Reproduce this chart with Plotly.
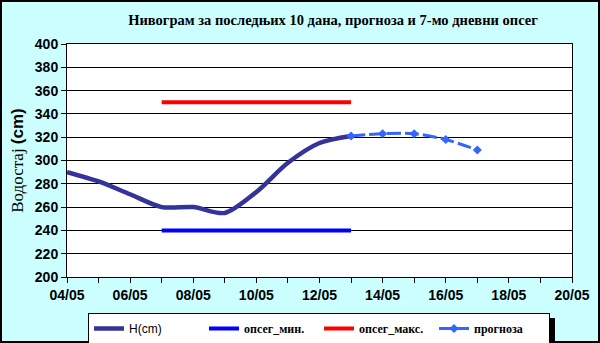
import plotly.graph_objects as go

# Observed water level (cm) for the last 10 days
obs_dates = ["2024-05-04", "2024-05-05", "2024-05-06", "2024-05-07", "2024-05-08",
             "2024-05-09", "2024-05-10", "2024-05-11", "2024-05-12", "2024-05-13"]
obs_level = [290, 282, 271, 260, 260, 255, 273, 298, 315, 321]

# 7-day range limits
range_dates = ["2024-05-07", "2024-05-13"]
range_min = [240, 240]
range_max = [350, 350]

# Forecast
fc_dates = ["2024-05-13", "2024-05-14", "2024-05-15", "2024-05-16", "2024-05-17"]
fc_level = [321, 323, 323, 318, 309]

y_ticks = list(range(200, 401, 20))

W, H = 600, 343
L, R, T, B = 67, 28, 44, 66
PW, PH = W - L - R, H - T - B

def px_x(p):
    return (p - L) / PW

def px_y(p):
    return (H - B - p) / PH

serif_bold = "<span style='font-family:Liberation Serif;font-weight:bold'>{}</span>"

fig = go.Figure()
fig.add_trace(go.Scatter(x=obs_dates, y=obs_level, mode="lines", name="H(cm)",
                         line=dict(color="#333399", width=4.5, shape="spline", smoothing=0.8)))
fig.add_trace(go.Scatter(x=range_dates, y=range_min, mode="lines",
                         name=serif_bold.format("опсег_мин."),
                         line=dict(color="#0000FF", width=4)))
fig.add_trace(go.Scatter(x=range_dates, y=range_max, mode="lines",
                         name=serif_bold.format("опсег_макс."),
                         line=dict(color="#FF0000", width=4)))
fig.add_trace(go.Scatter(x=fc_dates, y=fc_level, mode="lines+markers",
                         name=serif_bold.format("прогноза"),
                         line=dict(color="#3366FF", width=3, dash="14px,4px", shape="spline", smoothing=0.8),
                         marker=dict(symbol="diamond", size=7, color="#3366FF")))

fig.update_layout(
    width=W, height=H,
    margin=dict(l=L, r=R, t=T, b=B, autoexpand=False),
    paper_bgcolor="#CCFFFF",
    plot_bgcolor="white",
    font=dict(family="Arial", size=13, color="black"),
    title=dict(text="<b>Нивограм за последњих 10 дана, прогноза и 7-мо дневни опсег</b>",
               font=dict(family="Liberation Serif", size=14.5, color="black"),
               x=333 / W, xanchor="center", y=1 - 20 / H, yanchor="middle"),
    showlegend=True,
    legend=dict(orientation="h", x=px_x(88), xanchor="left", y=px_y(313), yanchor="top",
                bgcolor="white", bordercolor="black", borderwidth=1,
                font=dict(family="Arial", size=12, color="black"),
                itemwidth=30, entrywidth=70, entrywidthmode="pixels", tracegroupgap=0),
    xaxis=dict(type="date", range=["2024-05-04", "2024-05-20"],
               tickformat="%d/%m", dtick=2 * 86400000, tick0="2024-05-04",
               ticks="outside", ticklen=5, tickcolor="black",
               minor=dict(dtick=86400000, ticks="outside", ticklen=5, tickcolor="black", showgrid=False),
               showline=True, linecolor="black", linewidth=1, mirror=True,
               showgrid=False, tickfont=dict(family="Arial", size=14, weight="bold"),
               zeroline=False),
    yaxis=dict(range=[200, 400], tickvals=y_ticks, ticks="outside", ticklen=5, tickcolor="black",
               showline=True, linecolor="black", linewidth=1, mirror=True,
               showgrid=True, gridcolor="black", gridwidth=1,
               tickfont=dict(family="Arial", size=14, weight="bold"), zeroline=False,
               title=dict(text="Водостај <span style='font-family:Arial;font-weight:bold'>(cm)</span>",
                          font=dict(family="Liberation Serif", size=17, color="black"), standoff=6)),
    shapes=[
        # legend drop shadow
        dict(type="rect", xref="paper", yref="paper",
             x0=px_x(92), x1=px_y(0) * 0 + px_x(555), y0=px_y(341), y1=px_y(318),
             fillcolor="black", line=dict(width=0), layer="above"),
        # outer frame
        dict(type="rect", xref="paper", yref="paper",
             x0=px_x(1), x1=px_x(W - 1), y0=px_y(H - 1), y1=px_y(1),
             line=dict(color="black", width=2), fillcolor="rgba(0,0,0,0)", layer="above"),
    ],
)

fig.write_html("out.html")
